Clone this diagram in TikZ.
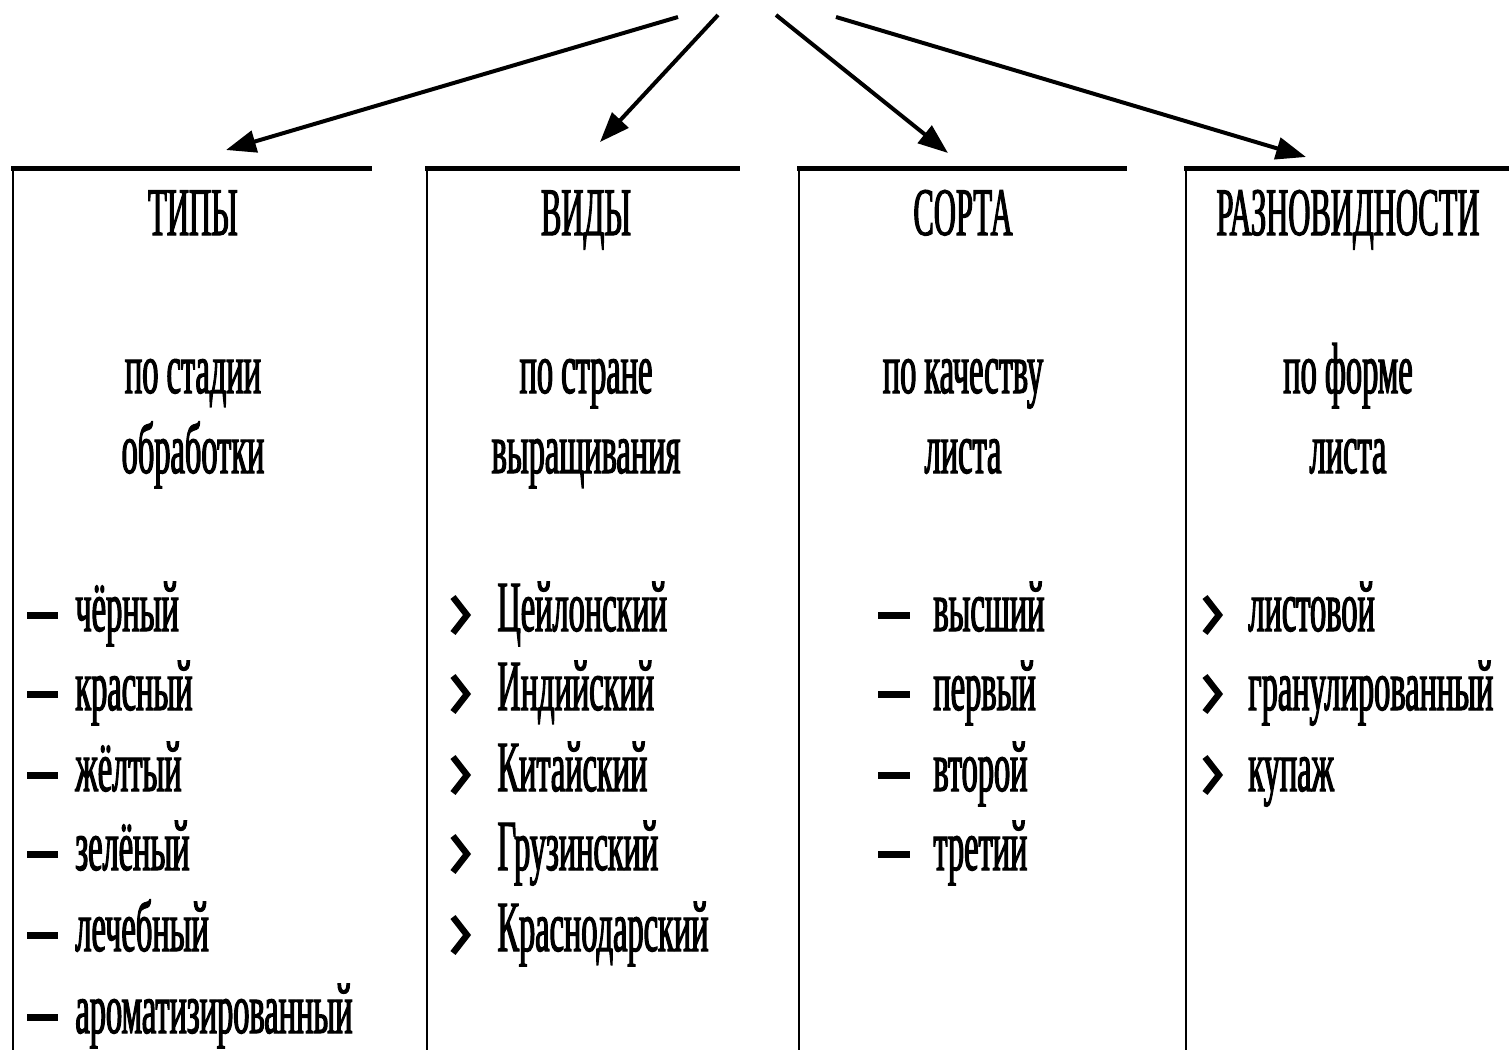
\documentclass[tikz,border=0pt]{standalone}
\usepackage{fontspec}
\setmainfont{Liberation Serif}
\newfontfamily\cf[FakeStretch=0.45,FakeBold=1.6]{Liberation Serif}
\usetikzlibrary{arrows.meta}
\begin{document}
\begin{tikzpicture}[x=0.5pt,y=-0.5pt,
  hdr/.style={font=\cf\fontsize{34}{34}\selectfont, inner sep=0pt, anchor=base},
  sub/.style={font=\cf\fontsize{36}{40}\selectfont, inner sep=0pt, anchor=base},
  item/.style={font=\cf\fontsize{36}{40}\selectfont, inner sep=0pt, anchor=base west},
  topline/.style={line width=2.5pt},
  sideline/.style={line width=1.3pt},
  arr/.style={line width=2pt, -{Triangle[length=15pt,width=11pt]}},
  dashmark/.style={line width=3.5pt},
  chev/.style={line width=3.2pt, line join=miter},
]
\useasboundingbox[fill=white] (0,0) rectangle (1509,1050);

% column frames
\draw[topline] (11,168) -- (372,168);
\draw[sideline] (13,168) -- (13,1050);
\draw[topline] (425,168) -- (740,168);
\draw[sideline] (427,168) -- (427,1050);
\draw[topline] (797,168) -- (1127,168);
\draw[sideline] (799,168) -- (799,1050);
\draw[topline] (1184,168) -- (1509,168);
\draw[sideline] (1186,168) -- (1186,1050);

% arrows
\coordinate (s1) at (678,17);  \coordinate (t1) at (226,150);
\coordinate (s2) at (718,15);  \coordinate (t2) at (600,142);
\coordinate (s3) at (776,15);  \coordinate (t3) at (948,153);
\coordinate (s4) at (836,17);  \coordinate (t4) at (1306,157);
\draw[arr] (s1) -- (t1);
\draw[arr] (s2) -- (t2);
\draw[arr] (s3) -- (t3);
\draw[arr] (s4) -- (t4);

% headers
\node[hdr] (h1) at (193,235) {ТИПЫ};
\node[hdr] (h2) at (586,235) {ВИДЫ};
\node[hdr] (h3) at (963,235) {СОРТА};
\node[hdr] (h4) at (1348,235) {РАЗНОВИДНОСТИ};

% subtitles
\node[sub] (a1) at (193,393) {по стадии};
\node[sub] (a2) at (193,473) {обработки};
\node[sub] (b1) at (586,393) {по стране};
\node[sub] (b2) at (586,473) {выращивания};
\node[sub] (c1) at (963,393) {по качеству};
\node[sub] (c2) at (963,473) {листа};
\node[sub] (d1) at (1348,393) {по форме};
\node[sub] (d2) at (1348,473) {листа};

% column 1
\foreach \yy/\txt/\nm in {631/чёрный/p1, 710/красный/p2, 791/жёлтый/p3, 870/зелёный/p4, 951/лечебный/p5, 1033/ароматизированный/p6}{
  \draw[dashmark] (27,\yy-16) -- (58,\yy-16);
  \node[item] (\nm) at (75,\yy) {\txt};
}
% column 2
\foreach \yy/\txt/\nm in {631/Цейлонский/q1, 710/Индийский/q2, 791/Китайский/q3, 870/Грузинский/q4, 951/Краснодарский/q5}{
  \draw[chev] (453,\yy-34) -- (467,\yy-16) -- (453,\yy+2);
  \node[item] (\nm) at (497,\yy) {\txt};
}
% column 3
\foreach \yy/\txt/\nm in {631/высший/r1, 710/первый/r2, 791/второй/r3, 870/третий/r4}{
  \draw[dashmark] (878,\yy-16) -- (910,\yy-16);
  \node[item] (\nm) at (933,\yy) {\txt};
}
% column 4
\foreach \yy/\txt/\nm in {631/листовой/u1, 710/гранулированный/u2, 791/купаж/u3}{
  \draw[chev] (1205,\yy-34) -- (1219,\yy-16) -- (1205,\yy+2);
  \node[item] (\nm) at (1248,\yy) {\txt};
}
\end{tikzpicture}
\end{document}
